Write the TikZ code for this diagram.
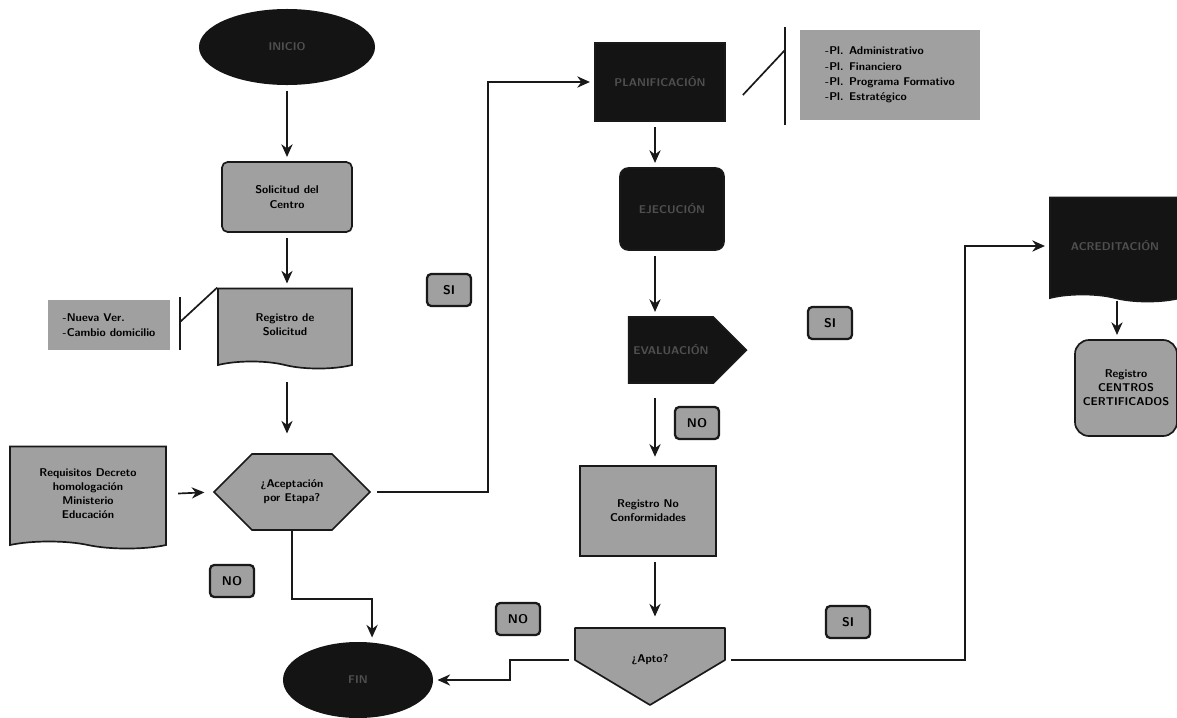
\documentclass[tikz,border=0pt]{standalone}
\usepackage{tikz}
\usetikzlibrary{shapes.geometric, shapes.symbols, arrows.meta, positioning}
\definecolor{myblack}{RGB}{20,20,20}
\definecolor{mydim}{RGB}{80,80,80}
\definecolor{mygrey}{RGB}{160,160,160}
\definecolor{myline}{RGB}{25,25,25}
\tikzset{
  terminal/.style={ellipse, fill=myblack, text=mydim,
    minimum width=4.4cm, minimum height=1.9cm,
    font=\sffamily\bfseries\fontsize{8}{10}\selectfont},
  greybox/.style={rectangle, draw=myline, fill=mygrey, align=center,
    rounded corners=4pt, line width=1.2pt,
    font=\sffamily\bfseries\fontsize{8}{10}\selectfont},
  darkbox/.style={rectangle, draw=myline, fill=myblack, text=mydim,
    align=center, line width=1.2pt,
    font=\sffamily\bfseries\fontsize{8}{10}\selectfont},
  docbox/.style={tape, tape bend top=none, tape bend bottom=out and in,
    draw=myline, fill=mygrey, align=center, line width=1.2pt,
    font=\sffamily\bfseries\fontsize{8}{10}\selectfont},
  notebox/.style={rectangle, fill=mygrey, align=left,
    font=\sffamily\bfseries\fontsize{8}{11}\selectfont},
  decision/.style={signal, draw=myline, fill=mygrey, align=center,
    line width=1.2pt,
    font=\sffamily\bfseries\fontsize{8}{10}\selectfont},
  answer/.style={rectangle, draw=myline, fill=mygrey, rounded corners=3pt,
    line width=1.6pt, minimum width=1.1cm, minimum height=0.8cm,
    font=\sffamily\bfseries\fontsize{9}{10}\selectfont},
  arrow/.style={-{Stealth[length=9pt,width=8pt]}, line width=1.2pt, color=myline,
    shorten <=4pt, shorten >=3pt},
  line/.style={line width=1.2pt, color=myline}
}

\begin{document}
\begin{tikzpicture}[x=0.025cm, y=-0.025cm]
  \useasboundingbox (0,0) rectangle (1177,717);
  \coordinate (colA) at (287,0);
  \coordinate (colB) at (655,0);
  \coordinate (colC) at (1117,0);

  % left column
  \node[terminal] (inicio) at (287,47) {INICIO};
  \node[greybox, minimum width=3.25cm, minimum height=1.75cm] (solicitud) at (287,197) {Solicitud del\\Centro};
  \node[docbox, minimum width=3.35cm, minimum height=2.0cm] (registro) at (285,325) {Registro de\\Solicitud};
  \node[notebox, minimum width=3.05cm, minimum height=1.25cm] (nota1) at (109,325) {-Nueva Ver.\\-Cambio domicilio};
  \node[docbox, minimum width=3.9cm, minimum height=2.55cm] (requisitos) at (88,494) {Requisitos Decreto\\homologación\\Ministerio\\Educación};
  \node[decision, signal to=east and west, minimum width=3.9cm, minimum height=1.9cm] (acepta) at (292,492) {¿Aceptación\\por Etapa?};
  \node[terminal, minimum width=3.75cm] (fin) at (358,680) {FIN};

  % middle column
  \node[darkbox, minimum width=3.25cm, minimum height=1.95cm] (planif) at (660,82) {PLANIFICACIÓN};
  \node[notebox, minimum width=4.5cm, minimum height=2.25cm] (nota2) at (890,75) {-Pl. Administrativo\\-Pl. Financiero\\-Pl. Programa Formativo\\-Pl. Estratégico};
  \node[darkbox, rounded corners=6pt, minimum width=2.6cm, minimum height=2.05cm] (ejecucion) at (672,209) {EJECUCIÓN};
  \node[darkbox, signal, signal to=east, minimum width=2.55cm, minimum height=1.65cm] (evalua) at (671,350) {EVALUACIÓN};
  \node[greybox, rounded corners=0pt, minimum width=3.4cm, minimum height=2.25cm] (noconf) at (648,511) {Registro No\\Conformidades};
  % apto: flat top, pointed bottom
  \filldraw[line, fill=mygrey, line join=round] (575,628) -- (725,628) -- (725,660) -- (650,705) -- (575,660) -- cycle;
  \node[font=\sffamily\bfseries\fontsize{8}{10}\selectfont, minimum width=3.75cm, minimum height=1.6cm] (apto) at (650,660) {¿Apto?};

  % right column
  \node[docbox, fill=myblack, text=mydim, minimum width=3.25cm, minimum height=2.6cm] (cert) at (1115,246) {ACREDITACIÓN};
  \node[greybox, rounded corners=10pt, minimum width=2.55cm, minimum height=2.4cm] (centros) at (1126,388) {Registro\\CENTROS\\CERTIFICADOS};

  % answers
  \node[answer] (si1) at (449,290) {SI};
  \node[answer] (no1) at (232,581) {NO};
  \node[answer] (si2) at (830,323) {SI};
  \node[answer] (no2) at (697,423) {NO};
  \node[answer] (no3) at (518,619) {NO};
  \node[answer] (si3) at (848,622) {SI};

  % connectors
  \draw[arrow] (inicio.south -| colA) -- (solicitud.north -| colA);
  \draw[arrow] (solicitud.south -| colA) -- (registro.north -| colA);
  \draw[arrow, shorten <=14pt, shorten >=14pt] (registro.south -| colA) -- (acepta.north -| colA);
  \draw[arrow, shorten <=8pt, shorten >=6pt] (requisitos.east) -- (acepta.west);
  \draw[arrow] (acepta.east) -- ++(117,0) |- (planif.west);
  \draw[arrow, shorten <=0pt] (acepta.south) -- ++(0,68) -| ([xshift=10]fin.north);
  \draw[arrow] (planif.south -| colB) -- (ejecucion.north -| colB);
  \draw[arrow] (ejecucion.south -| colB) -- (evalua.north -| colB);
  \draw[arrow, shorten <=10pt, shorten >=6pt] (evalua.south -| colB) -- (noconf.north -| colB);
  \draw[arrow, shorten >=8pt] (noconf.south -| colB) -- (apto.north -| colB);
  \draw[arrow] (apto.west) -- ++(-65,0) |- (fin.east);
  \draw[arrow] (apto.east) -- ++(240,0) |- (cert.west);
  \draw[arrow] (cert.south -| colC) -- (centros.north -| colC);

  % note brackets
  \coordinate (brk1) at (180,322);
  \draw[line] (brk1) ++(0,-25) -- ++(0,53);
  \draw[line] (brk1) -- (registro.north west);
  \coordinate (brk2) at (785,50);
  \draw[line] (brk2) ++(0,-23) -- ++(0,98);
  \draw[line] ([shift={(17,13)}]planif.east) -- (brk2);
\end{tikzpicture}
\end{document}
